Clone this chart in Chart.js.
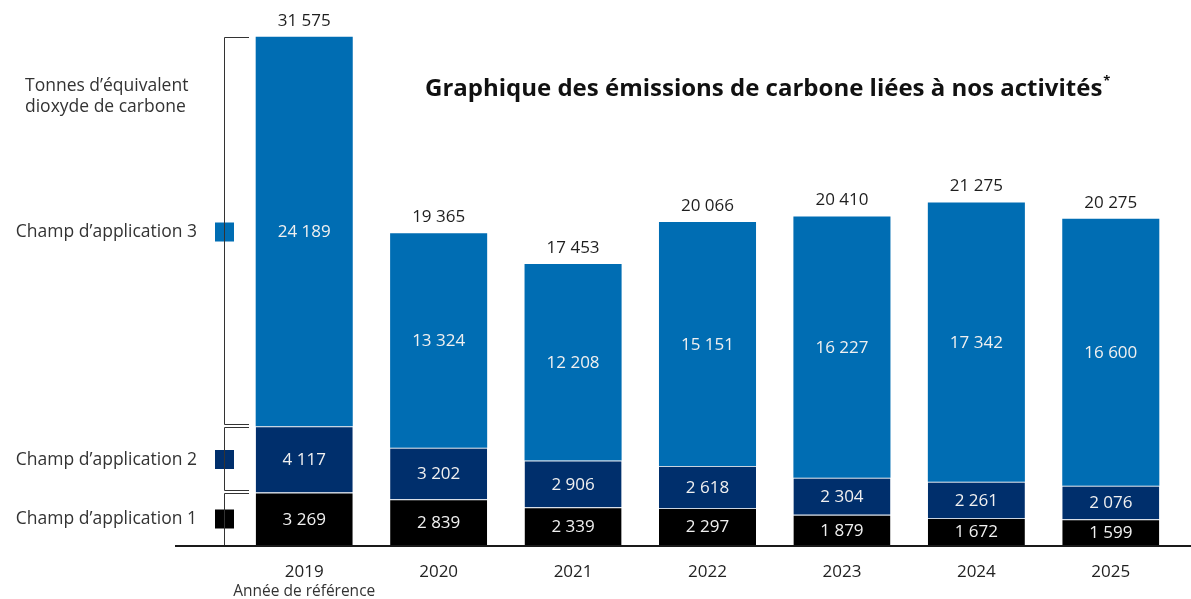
<!DOCTYPE html>
<html lang="fr">
<head>
<meta charset="utf-8">
<title>Émissions de carbone</title>
<script src="https://cdn.jsdelivr.net/npm/chart.js@4.4.1/dist/chart.umd.min.js"></script>
<style>
  html, body { margin: 0; padding: 0; background: #fff; }
</style>
</head>
<body>
<canvas id="emissionsChart" width="1191" height="599"></canvas>
<script>
// données (tonnes d'équivalent CO2)
const years = ['2019', '2020', '2021', '2022', '2023', '2024', '2025'];
const scope1 = [3269, 2839, 2339, 2297, 1879, 1672, 1599];
const scope2 = [4117, 3202, 2906, 2618, 2304, 2261, 2076];
const scope3 = [24189, 13324, 12208, 15151, 16227, 17342, 16600];
const scopeLabels = ['Champ d’application 1', 'Champ d’application 2', 'Champ d’application 3'];
const unitLabel = ['Tonnes d’équivalent', 'dioxyde de carbone'];
const baseYearNote = 'Année de référence';
const chartTitle = 'Graphique des émissions de carbone liées à nos activités';

const totals = years.map((_, i) => scope1[i] + scope2[i] + scope3[i]);
const FONT = '"Open Sans", "Noto Sans", sans-serif';

function fmt(n) {
    return String(n).replace(/\B(?=(\d{3})+(?!\d))/g, ' ');
}

// textes, accolades et légende dessinés autour des barres
const decorPlugin = {
    id: 'decor',
    afterDatasetsDraw(chart) {
        const ctx = chart.ctx;
        const area = chart.chartArea;
        ctx.save();
        ctx.textAlign = 'center';
        ctx.textBaseline = 'middle';

        // valeurs dans les segments
        ctx.font = '17px ' + FONT;
        ctx.fillStyle = '#f0f0f0';
        chart.data.datasets.forEach((ds, di) => {
            chart.getDatasetMeta(di).data.forEach((bar, i) => {
                ctx.fillText(fmt(ds.data[i]), bar.x, (bar.y + bar.base) / 2 + 1);
            });
        });

        // totaux au-dessus
        ctx.fillStyle = '#1e1e1e';
        chart.getDatasetMeta(2).data.forEach((bar, i) => {
            ctx.fillText(fmt(totals[i]), bar.x, bar.y - 16);
        });

        // ligne de base
        ctx.fillStyle = '#1a1a1a';
        ctx.fillRect(175, area.bottom, chart.width - 175, 2);

        // année de référence
        ctx.font = '15.5px ' + FONT;
        ctx.fillStyle = '#333';
        ctx.fillText(baseYearNote, chart.scales.x.getPixelForValue(0), 592);

        // unité
        ctx.textAlign = 'left';
        ctx.font = '17.5px ' + FONT;
        ctx.fillStyle = '#333';
        ctx.fillText(unitLabel[0], 25, 86);
        ctx.fillText(unitLabel[1], 25, 107);

        // légende + accolades alignées sur 2019
        ctx.strokeStyle = '#333';
        ctx.lineWidth = 1;
        chart.data.datasets.forEach((ds, di) => {
            const bar = chart.getDatasetMeta(di).data[0];
            const top = Math.round(bar.y);
            const bottom = Math.round(bar.base);
            const mid = (top + bottom) / 2;

            ctx.fillStyle = ds.backgroundColor;
            ctx.fillRect(215, mid - 9, 19, 19);

            ctx.textAlign = 'right';
            ctx.fillStyle = '#333';
            ctx.fillText(scopeLabels[di], 197, mid + 1);

            const t = di === 2 ? top + 0.5 : top + 1.5;
            const b = di === 0 ? bottom : bottom - 1.5;
            ctx.beginPath();
            ctx.moveTo(249, t);
            ctx.lineTo(224.5, t);
            ctx.lineTo(224.5, b);
            if (di !== 0) ctx.lineTo(249, b);
            ctx.stroke();
        });

        // titre
        ctx.textAlign = 'left';
        ctx.fillStyle = '#111';
        ctx.font = 'bold 24px ' + FONT;
        ctx.fillText(chartTitle, 425, 89);
        const w = ctx.measureText(chartTitle).width;
        ctx.font = 'bold 13px ' + FONT;
        ctx.fillText('*', 425 + w + 1, 81);

        ctx.restore();
    }
};

const ctx = document.getElementById('emissionsChart').getContext('2d');

new Chart(ctx, {
    type: 'bar',
    data: {
        labels: years,
        datasets: [
            {
                label: scopeLabels[0],
                data: scope1,
                backgroundColor: '#000000',
                borderColor: '#c9d3df',
                borderWidth: { top: 1, bottom: 0, left: 0, right: 0 }
            },
            {
                label: scopeLabels[1],
                data: scope2,
                backgroundColor: '#002f6c',
                borderColor: '#c9d3df',
                borderWidth: { top: 1, bottom: 0, left: 0, right: 0 }
            },
            {
                label: scopeLabels[2],
                data: scope3,
                backgroundColor: '#006db3',
                borderWidth: 0
            }
        ]
    },
    options: {
        responsive: false,
        animation: false,
        categoryPercentage: 1,
        barPercentage: 0.722,
        layout: { padding: { left: 237, right: 13, top: 30, bottom: 0 } },
        plugins: {
            legend: { display: false },
            tooltip: { enabled: false }
        },
        scales: {
            x: {
                stacked: true,
                grid: { display: false, drawTicks: false },
                border: { display: false },
                ticks: { color: '#222', padding: 17, font: { family: FONT, size: 17 } },
                afterFit: (scale) => { scale.height = 54; }
            },
            y: {
                stacked: true,
                display: false,
                min: 0,
                max: 32000
            }
        }
    },
    plugins: [decorPlugin]
});
</script>
</body>
</html>
